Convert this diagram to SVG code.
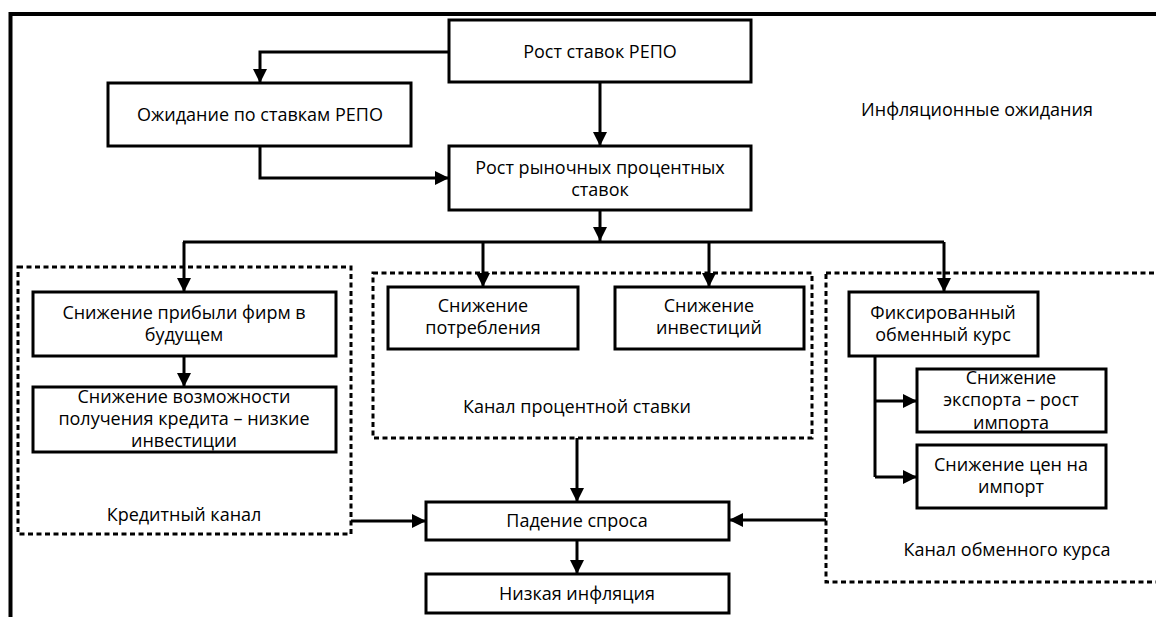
<svg xmlns="http://www.w3.org/2000/svg" width="1156" height="617" viewBox="0 0 1156 617">
<defs>
<marker id="ah" viewBox="0 0 14 14" refX="14" refY="7" markerWidth="14" markerHeight="14" markerUnits="userSpaceOnUse" orient="auto">
<path d="M0,0 L14,7 L0,14 Z" fill="#000"/>
</marker>
<style>
.box{fill:#fff;stroke:#000;stroke-width:3}
.grp{fill:none;stroke:#000;stroke-width:3;stroke-dasharray:5 3.5}
.ln{fill:none;stroke:#000;stroke-width:3}
.ar{fill:none;stroke:#000;stroke-width:3;marker-end:url(#ah)}
text{font-family:"Open Sans","Noto Sans","DejaVu Sans",sans-serif;font-size:18px;fill:#000;text-anchor:middle}
</style>
</defs>
<rect width="1156" height="617" fill="#fff"/>
<path class="ln" d="M10.5,617 V14 H1156" style="stroke-width:4"/>

<g id="group-credit"><rect class="grp" x="18" y="267" width="333" height="267"/><text x="184" y="521">Кредитный канал</text></g>
<g id="group-rate"><rect class="grp" x="373" y="273" width="439" height="165"/><text x="577" y="413">Канал процентной ставки</text></g>
<g id="group-fx"><rect class="grp" x="826" y="273" width="340" height="309"/><text x="1007" y="556">Канал обменного курса</text></g>

<g id="connectors">
<path class="ar" d="M449,52 H260 V83"/>
<path class="ar" d="M260,146 V178 H449"/>
<path class="ar" d="M600,82 V146"/>
<path class="ar" d="M600,210 V241"/>
<path class="ln" d="M183,242 H944"/>
<path class="ar" d="M184,242 V292"/>
<path class="ar" d="M483,242 V287"/>
<path class="ar" d="M709,242 V287"/>
<path class="ar" d="M944,242 V292"/>
<path class="ar" d="M184,356 V387"/>
<path class="ln" d="M875,356 V477"/>
<path class="ar" d="M875,401 H917"/>
<path class="ar" d="M875,477 H917"/>
<path class="ar" d="M577,438 V502"/>
<path class="ar" d="M351,521 H426"/>
<path class="ar" d="M826,520 H729"/>
<path class="ar" d="M577,540 V574"/>
</g>

<g id="n-repo"><rect class="box" x="449" y="20" width="302" height="62"/><text x="600" y="58">Рост ставок РЕПО</text></g>
<g id="n-expect"><rect class="box" x="108" y="83" width="303" height="63"/><text x="260" y="121">Ожидание по ставкам РЕПО</text></g>
<g id="n-infl-exp"><text x="977" y="116">Инфляционные ожидания</text></g>
<g id="n-market"><rect class="box" x="449" y="146" width="302" height="64"/><text x="600" y="174">Рост рыночных процентных<tspan x="600" dy="22">ставок</tspan></text></g>
<g id="n-profit"><rect class="box" x="33" y="292" width="303" height="64"/><text x="184" y="319">Снижение прибыли фирм в<tspan x="184" dy="22">будущем</tspan></text></g>
<g id="n-credit"><rect class="box" x="33" y="387" width="303" height="65"/><text x="184" y="403">Снижение возможности<tspan x="184" dy="22">получения кредита – низкие</tspan><tspan x="184" dy="22">инвестиции</tspan></text></g>
<g id="n-consump"><rect class="box" x="388" y="287" width="190" height="62"/><text x="483" y="312">Снижение<tspan x="483" dy="22">потребления</tspan></text></g>
<g id="n-invest"><rect class="box" x="615" y="287" width="189" height="62"/><text x="709" y="312">Снижение<tspan x="709" dy="22">инвестиций</tspan></text></g>
<g id="n-fixed"><rect class="box" x="849" y="292" width="189" height="64"/><text x="943" y="319">Фиксированный<tspan x="943" dy="22">обменный курс</tspan></text></g>
<g id="n-export"><rect class="box" x="917" y="369" width="189" height="63"/><text x="1011" y="384">Снижение<tspan x="1011" dy="22">экспорта – рост</tspan><tspan x="1011" dy="23">импорта</tspan></text></g>
<g id="n-prices"><rect class="box" x="917" y="445" width="189" height="63"/><text x="1011" y="471">Снижение цен на<tspan x="1011" dy="22">импорт</tspan></text></g>
<g id="n-demand"><rect class="box" x="426" y="502" width="303" height="38"/><text x="577" y="527">Падение спроса</text></g>
<g id="n-low"><rect class="box" x="426" y="574" width="303" height="39"/><text x="577" y="600">Низкая инфляция</text></g>
</svg>
